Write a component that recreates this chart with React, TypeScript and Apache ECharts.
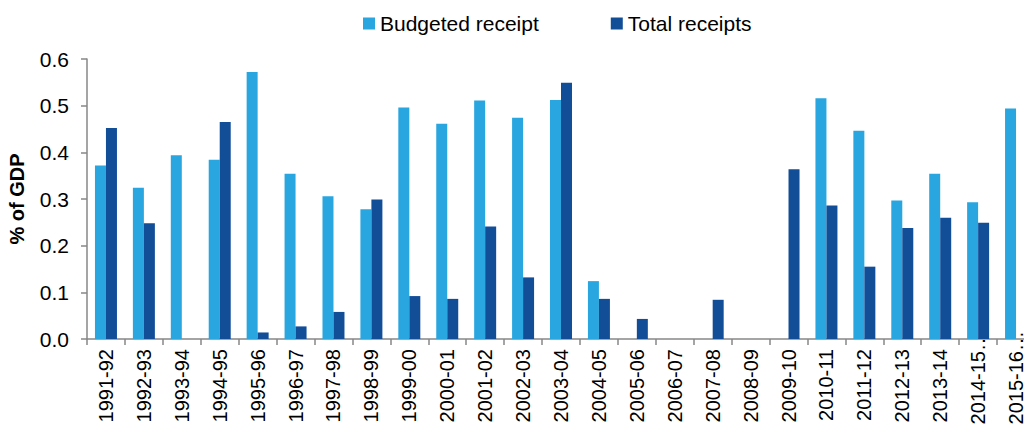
import React, { useEffect, useRef } from "react";
import * as echarts from "echarts";

const categories = [
  "1991-92", "1992-93", "1993-94", "1994-95", "1995-96", "1996-97", "1997-98",
  "1998-99", "1999-00", "2000-01", "2001-02", "2002-03", "2003-04", "2004-05",
  "2005-06", "2006-07", "2007-08", "2008-09", "2009-10", "2010-11", "2011-12",
  "2012-13", "2013-14", "2014-15…", "2015-16…",
];

const budgetedReceipt = [
  0.372, 0.324, 0.394, 0.384, 0.572, 0.354, 0.306, 0.278, 0.496, 0.461, 0.511,
  0.474, 0.512, 0.124, 0, 0, 0, 0, 0, 0.516, 0.446, 0.297, 0.354, 0.293, 0.494,
];

const totalReceipts = [
  0.452, 0.248, 0, 0.465, 0.014, 0.027, 0.058, 0.299, 0.092, 0.086, 0.241,
  0.132, 0.549, 0.086, 0.043, 0, 0.084, 0, 0.364, 0.286, 0.155, 0.238, 0.26,
  0.249, 0,
];

const yTicks = { min: 0, max: 0.6, interval: 0.1 };

const FONT = "'Liberation Sans', Arial, sans-serif";

export default function App() {
  const ref = useRef<HTMLDivElement>(null);
  useEffect(() => {
    if (!ref.current) return;
    const chart = echarts.init(ref.current, null, { renderer: "svg" });
    const axisColor = "#878787";
    const last = categories.length - 1;
    const catData = categories.map((c, i) =>
      c.endsWith("…")
        ? { value: c, textStyle: { padding: [i === last ? -10 : 0, -18, 0, 0] } }
        : c
    );
    chart.setOption({
      animation: false,
      textStyle: { fontFamily: FONT },
      legend: {
        left: 358,
        top: 8,
        itemWidth: 12,
        itemHeight: 12,
        itemGap: 72,
        icon: "rect",
        textStyle: { fontSize: 21, color: "#000", fontFamily: FONT },
        data: ["Budgeted receipt", "Total receipts"],
      },
      grid: {
        left: 87,
        top: 59,
        width: 948,
        height: 280,
        containLabel: false,
        outerBoundsMode: "none",
      },
      xAxis: {
        type: "category",
        data: catData,
        axisLine: { lineStyle: { color: axisColor, width: 1.5 } },
        axisTick: { show: true, alignWithLabel: false, length: 6, lineStyle: { color: axisColor, width: 1.5 } },
        axisLabel: {
          rotate: 90,
          interval: 0,
          margin: 10,
          fontSize: 20,
          color: "#000",
          fontFamily: FONT,
        },
      },
      yAxis: {
        type: "value",
        min: yTicks.min,
        max: yTicks.max,
        interval: yTicks.interval,
        name: "% of GDP",
        nameLocation: "middle",
        nameRotate: 90,
        nameGap: 60,
        nameTextStyle: { fontSize: 20, fontWeight: "bold", color: "#000", fontFamily: FONT },
        axisLine: { show: true, lineStyle: { color: axisColor, width: 1.5 } },
        axisTick: { show: true, length: 6, lineStyle: { color: axisColor, width: 1.5 } },
        splitLine: { show: false },
        axisLabel: {
          margin: 18,
          fontSize: 21,
          color: "#000",
          fontFamily: FONT,
          formatter: (v: number) => v.toFixed(1),
        },
      },
      series: [
        {
          name: "Budgeted receipt",
          type: "bar",
          data: budgetedReceipt,
          barGap: "0%",
          barCategoryGap: "42%",
          itemStyle: { color: "#29A6DF" },
        },
        {
          name: "Total receipts",
          type: "bar",
          data: totalReceipts,
          barGap: "0%",
          barCategoryGap: "42%",
          itemStyle: { color: "#124D98" },
        },
      ],
    });
    return () => chart.dispose();
  }, []);
  return (
    <div
      ref={ref}
      style={{ position: "fixed", left: 0, top: 0, width: 1024, height: 428, background: "#fff" }}
    />
  );
}
